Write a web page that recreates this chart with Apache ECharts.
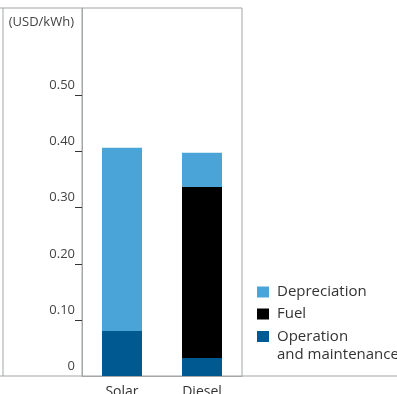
<!DOCTYPE html>
<html>
<head>
<meta charset="utf-8">
<script src="https://cdn.jsdelivr.net/npm/echarts@6/dist/echarts.min.js"></script>
<style>
html,body{margin:0;padding:0;background:#fff;}
#chart{width:397px;height:394px;}
</style>
</head>
<body>
<div id="chart"></div>
<script>
const categories = ['Solar', 'Diesel'];
const operationMaintenance = [0.080, 0.032];
const fuel = [null, 0.305];
const depreciation = [0.327, 0.061];
const tickValues = [0.1, 0.2, 0.3, 0.4, 0.5];
const labelValues = [0, 0.1, 0.2, 0.3, 0.4, 0.5];
const unitLabel = '(USD/kWh)';

const FONT = 'Open Sans';
const LINE = '#a3a7a7';
const chart = echarts.init(document.getElementById('chart'));
chart.setOption({
  animation: false,
  textStyle: { fontFamily: FONT },
  grid: {
    left: 82, right: 155, top: 8, bottom: 18,
    containLabel: false,
    outerBoundsMode: 'none',
    show: true, borderColor: LINE, borderWidth: 1, backgroundColor: 'transparent'
  },
  xAxis: {
    type: 'category',
    data: categories,
    axisLine: { lineStyle: { color: LINE, width: 1 } },
    axisTick: { show: false },
    axisLabel: { margin: 9, fontSize: 14, color: '#333', fontFamily: FONT }
  },
  yAxis: {
    type: 'value',
    min: 0,
    max: 0.656,
    interval: 0.1,
    name: unitLabel,
    nameLocation: 'end',
    nameGap: -14,
    nameTextStyle: {
      align: 'right', verticalAlign: 'middle', padding: [0, 8, 0, 0],
      fontSize: 13, color: '#444', fontFamily: FONT
    },
    axisLine: { show: true, lineStyle: { color: LINE, width: 1 } },
    axisTick: {
      show: true, customValues: tickValues, length: 7,
      lineStyle: { color: '#333', width: 1 }
    },
    axisLabel: {
      customValues: labelValues,
      margin: 7,
      fontSize: 13,
      color: '#444',
      fontFamily: FONT,
      verticalAlign: 'bottom',
      lineHeight: 20,
      formatter: v => (v === 0 ? '0' : v.toFixed(2))
    },
    splitLine: { show: false }
  },
  legend: [
    {
      data: ['Depreciation', 'Fuel'],
      orient: 'vertical',
      left: 257, top: 283,
      padding: 0,
      itemWidth: 12, itemHeight: 11, itemGap: 4,
      icon: 'rect',
      textStyle: { fontSize: 15, lineHeight: 18, color: '#333', fontFamily: FONT, padding: [0, 0, 0, 3] }
    },
    {
      data: ['Operation and maintenance'],
      orient: 'vertical',
      left: 257, top: 309.5,
      padding: 0,
      itemWidth: 12, itemHeight: 11,
      icon: 'rect',
      formatter: () => '\nOperation\nand maintenance',
      textStyle: { fontSize: 15, lineHeight: 18, color: '#333', fontFamily: FONT, padding: [0, 0, 0, 3] }
    }
  ],
  graphic: [
    { type: 'line', shape: { x1: 0, y1: 8, x2: 82, y2: 8 }, style: { stroke: LINE, lineWidth: 1 }, silent: true },
    { type: 'line', shape: { x1: 3, y1: 8, x2: 3, y2: 376 }, style: { stroke: LINE, lineWidth: 1 }, silent: true },
    { type: 'line', shape: { x1: 0, y1: 376, x2: 82, y2: 376 }, style: { stroke: LINE, lineWidth: 1 }, silent: true },
    { type: 'line', shape: { x1: 242, y1: 376, x2: 397, y2: 376 }, style: { stroke: LINE, lineWidth: 1 }, silent: true }
  ],
  series: [
    { name: 'Operation and maintenance', type: 'bar', stack: 'cost', data: operationMaintenance, barWidth: 40, itemStyle: { color: '#005a91' } },
    { name: 'Fuel', type: 'bar', stack: 'cost', data: fuel, barWidth: 40, itemStyle: { color: '#000000' } },
    { name: 'Depreciation', type: 'bar', stack: 'cost', data: depreciation, barWidth: 40, itemStyle: { color: '#4aa4d8' } }
  ]
});
</script>
</body>
</html>
